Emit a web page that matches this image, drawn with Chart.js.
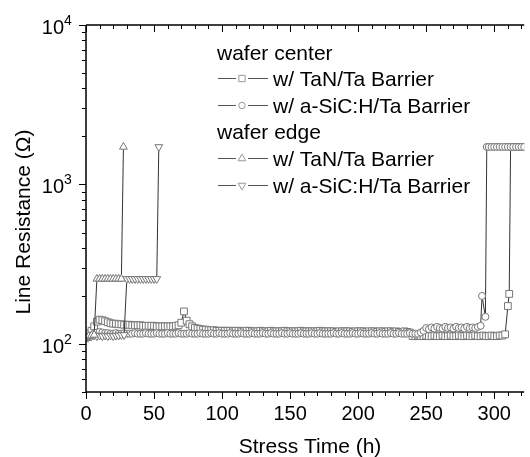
<!DOCTYPE html>
<html>
<head>
<meta charset="utf-8">
<script src="https://cdn.jsdelivr.net/npm/chart.js@4.4.1/dist/chart.umd.min.js"></script>
<style>
  html, body { margin: 0; padding: 0; background: #fff; }
  #wrap { width: 530px; height: 457px; overflow: hidden; }
</style>
</head>
<body>
<div id="wrap"><canvas id="lifetimeChart" width="530" height="457"></canvas></div>
<script>
// Wafer center, TaN/Ta barrier (squares)
const centerTaNHours = [
  0, 2, 4, 6, 8, 10, 12, 14, 16, 18, 20, 22, 24, 26, 28, 30, 32, 34, 36, 38,
  40, 42, 44, 46, 48, 50, 52, 54, 56, 58, 60, 62, 64, 66, 68, 70, 72, 74, 76, 78,
  80, 82, 84, 86, 88, 90, 92, 94, 96, 98, 100, 102, 104, 106, 108, 110, 112, 114, 116, 118,
  120, 122, 124, 126, 128, 130, 132, 134, 136, 138, 140, 142, 144, 146, 148, 150, 152, 154, 156, 158,
  160, 162, 164, 166, 168, 170, 172, 174, 176, 178, 180, 182, 184, 186, 188, 190, 192, 194, 196, 198,
  200, 202, 204, 206, 208, 210, 212, 214, 216, 218, 220, 222, 224, 226, 228, 230, 232, 234, 236, 238,
  240, 242, 244, 246, 248, 250, 252, 254, 256, 258, 260, 262, 264, 266, 268, 270, 272, 274, 276, 278,
  280, 282, 284, 286, 288, 290, 292, 294, 296, 298, 300, 302, 304, 306, 308, 310, 311, 312, 314, 316,
  318, 320, 322
];
const centerTaNOhms = [
  112, 116, 121, 129, 138, 142, 141, 139, 137, 135, 134, 134, 133, 133, 132, 132, 132, 131, 131, 131,
  131, 130, 130, 130, 130, 130, 129, 129, 129, 129, 129, 129, 129, 130, 131, 136, 160, 140, 133, 129,
  126, 125, 124, 123, 123, 122, 122, 122, 121, 121, 121, 121, 121, 121, 120, 121, 121, 120, 120, 121,
  121, 120, 120, 120, 121, 120, 120, 120, 121, 120, 120, 120, 120, 121, 120, 120, 120, 120, 120, 121,
  120, 120, 120, 120, 120, 120, 121, 120, 120, 120, 120, 120, 119, 120, 120, 120, 120, 120, 119, 120,
  120, 120, 120, 119, 120, 120, 120, 119, 120, 120, 119, 120, 120, 119, 120, 119, 119, 120, 119, 118,
  112, 112, 113, 112, 112, 113, 112, 112, 113, 112, 112, 113, 112, 112, 113, 112, 112, 113, 112, 112,
  113, 112, 112, 113, 112, 112, 113, 112, 112, 113, 112, 112, 113, 113, 115, 173, 206, 1720, 1720, 1720,
  1720, 1720, 1720
];

// Wafer center, a-SiC:H/Ta barrier (circles)
const centerSiCHours = [
  0, 2, 4, 6, 8, 10, 12, 14, 16, 18, 20, 22, 24, 26, 28, 30, 32, 34, 36, 38,
  40, 42, 44, 46, 48, 50, 52, 54, 56, 58, 60, 62, 64, 66, 68, 70, 72, 74, 76, 78,
  80, 82, 84, 86, 88, 90, 92, 94, 96, 98, 100, 102, 104, 106, 108, 110, 112, 114, 116, 118,
  120, 122, 124, 126, 128, 130, 132, 134, 136, 138, 140, 142, 144, 146, 148, 150, 152, 154, 156, 158,
  160, 162, 164, 166, 168, 170, 172, 174, 176, 178, 180, 182, 184, 186, 188, 190, 192, 194, 196, 198,
  200, 202, 204, 206, 208, 210, 212, 214, 216, 218, 220, 222, 224, 226, 228, 230, 232, 234, 236, 238,
  240, 242, 244, 246, 248, 250, 252, 254, 256, 258, 260, 262, 264, 266, 268, 270, 272, 274, 276, 278,
  280, 282, 284, 286, 288, 290, 291, 293.5, 294.5, 296, 298, 300, 302, 304, 306, 308, 310, 312, 314, 316,
  318, 320, 322
];
const centerSiCOhms = [
  108, 110, 113, 116, 118, 119, 118, 117, 117, 116, 116, 117, 116, 116, 117, 116, 116, 116, 117, 116,
  116, 116, 117, 116, 116, 116, 117, 116, 116, 116, 117, 116, 116, 116, 117, 116, 116, 116, 117, 116,
  116, 116, 117, 116, 116, 116, 117, 116, 116, 117, 116, 116, 116, 117, 116, 116, 116, 117, 116, 116,
  116, 117, 116, 116, 116, 117, 116, 116, 117, 116, 116, 116, 117, 116, 116, 117, 116, 116, 116, 117,
  116, 116, 116, 117, 116, 116, 117, 116, 116, 116, 116, 117, 116, 116, 117, 116, 116, 116, 117, 116,
  116, 117, 116, 116, 116, 117, 116, 116, 117, 116, 116, 116, 117, 116, 116, 117, 116, 116, 116, 117,
  116, 116, 116, 118, 121, 126, 124, 127, 125, 128, 126, 125, 128, 126, 127, 125, 128, 126, 127, 125,
  128, 126, 127, 126, 128, 130, 200, 148, 1720, 1720, 1720, 1720, 1720, 1720, 1720, 1720, 1720, 1720, 1720, 1720,
  1720, 1720, 1720
];

// Wafer edge, TaN/Ta barrier (triangles)
const edgeTaNHours = [0, 2, 4, 6, 8, 10, 12, 14, 16, 18, 20, 22, 24, 26, 27.5];
const edgeTaNOhms = [110, 112, 113, 114, 256, 256, 256, 256, 256, 256, 256, 256, 256, 256, 1720];

// Wafer edge, a-SiC:H/Ta barrier (inverted triangles)
const edgeSiCHours = [
  0, 2, 4, 6, 8, 10, 12, 14, 16, 18, 20, 22, 24, 26, 28,
  30, 32, 34, 36, 38, 40, 42, 44, 46, 48, 50, 52, 53.5
];
const edgeSiCOhms = [
  111, 112, 112, 113, 112, 113, 112, 113, 112, 113, 112, 113, 113, 114, 114,
  256, 256, 256, 256, 256, 256, 256, 256, 256, 256, 256, 256, 1720
];

const xMajorTicks = [0, 50, 100, 150, 200, 250, 300];
const xTickLabels = ['0', '50', '100', '150', '200', '250', '300'];
const yMajorTicks = [100, 1000, 10000];
const yTickExponents = ['2', '3', '4'];

const FONT = '"Liberation Sans", Arial, sans-serif';
const MARK = '#777';
const LINE = '#333';

function toPoints(hours, ohms) {
  return hours.map((h, i) => ({ x: h, y: ohms[i] }));
}

function series(label, hours, ohms, style, radius, rotation, order) {
  return {
    label,
    data: toPoints(hours, ohms),
    showLine: true,
    borderColor: LINE,
    borderWidth: 1,
    pointStyle: style,
    pointRadius: radius,
    pointRotation: rotation,
    pointBorderColor: MARK,
    pointBackgroundColor: '#fff',
    pointBorderWidth: 1,
    order,
  };
}

const legendRows = [
  { heading: 'wafer center', y: 60 },
  { label: 'w/ TaN/Ta Barrier', style: 'rect', radius: 4.5, rotation: 0, y: 86 },
  { label: 'w/ a-SiC:H/Ta Barrier', style: 'circle', radius: 3.2, rotation: 0, y: 113 },
  { heading: 'wafer edge', y: 139 },
  { label: 'w/ TaN/Ta Barrier', style: 'triangle', radius: 4.5, rotation: 0, y: 166 },
  { label: 'w/ a-SiC:H/Ta Barrier', style: 'triangle', radius: 4.5, rotation: 180, y: 193 },
];

// axes frame, ticks, tick labels, titles and legend
const frame = {
  id: 'frame',
  afterDraw(chart) {
    const { ctx, chartArea: a, scales: { x, y } } = chart;
    ctx.save();
    ctx.strokeStyle = '#000';
    ctx.lineWidth = 1.5;
    ctx.beginPath();
    ctx.moveTo(a.left, a.top);
    ctx.lineTo(a.right, a.top);
    ctx.moveTo(a.left, a.top);
    ctx.lineTo(a.left, a.bottom);
    ctx.moveTo(a.left, a.bottom);
    ctx.lineTo(a.right, a.bottom);
    ctx.stroke();

    ctx.lineWidth = 1;
    ctx.beginPath();
    for (let t = 0; t <= x.max; t += 10) {
      const px = Math.round(x.getPixelForValue(t)) + 0.5;
      const len = t % 50 === 0 ? 7 : 4;
      ctx.moveTo(px, a.bottom);
      ctx.lineTo(px, a.bottom + len);
      ctx.moveTo(px, a.top);
      ctx.lineTo(px, a.top + len);
    }
    for (let dec = 10; dec <= 10000; dec *= 10) {
      for (let m = 1; m <= 9; m++) {
        const v = dec * m;
        if (v < y.min || v > y.max) continue;
        const py = Math.round(y.getPixelForValue(v)) + 0.5;
        const len = m === 1 ? 7 : 4;
        ctx.moveTo(a.left - len, py);
        ctx.lineTo(a.left, py);
      }
    }
    ctx.stroke();

    ctx.fillStyle = '#000';
    ctx.font = '20px ' + FONT;
    ctx.textAlign = 'center';
    ctx.textBaseline = 'alphabetic';
    xMajorTicks.forEach((t, i) => {
      ctx.fillText(xTickLabels[i], x.getPixelForValue(t), 420);
    });

    yMajorTicks.forEach((v, i) => {
      const py = y.getPixelForValue(v);
      ctx.font = '20px ' + FONT;
      ctx.textAlign = 'right';
      ctx.fillText('10', 64, py + 9);
      ctx.font = '14px ' + FONT;
      ctx.textAlign = 'left';
      ctx.fillText(yTickExponents[i], 64, py);
    });

    ctx.font = '21px ' + FONT;
    ctx.textAlign = 'center';
    ctx.fillText('Stress Time (h)', 310, 453);
    ctx.save();
    ctx.translate(30, 222);
    ctx.rotate(-Math.PI / 2);
    ctx.fillText('Line Resistance (\u03A9)', 0, 0);
    ctx.restore();

    ctx.textAlign = 'left';
    for (const row of legendRows) {
      ctx.fillStyle = '#000';
      ctx.font = '21px ' + FONT;
      if (row.heading) {
        ctx.fillText(row.heading, 217, row.y);
        continue;
      }
      ctx.fillText(row.label, 273, row.y);
      const ly = row.y - 7.5;
      ctx.strokeStyle = '#555';
      ctx.lineWidth = 1;
      ctx.beginPath();
      ctx.moveTo(218, ly);
      ctx.lineTo(236, ly);
      ctx.moveTo(248, ly);
      ctx.lineTo(268, ly);
      ctx.stroke();
      ctx.strokeStyle = '#999';
      ctx.fillStyle = '#fff';
      Chart.helpers.drawPoint(ctx, {
        pointStyle: row.style,
        radius: row.radius,
        rotation: row.rotation,
        borderWidth: 1,
      }, 242, ly);
    }
    ctx.restore();
  },
};

new Chart(document.getElementById('lifetimeChart'), {
  type: 'scatter',
  data: {
    datasets: [
      series('wafer edge w/ TaN/Ta Barrier', edgeTaNHours, edgeTaNOhms, 'triangle', 4.5, 0, 1),
      series('wafer edge w/ a-SiC:H/Ta Barrier', edgeSiCHours, edgeSiCOhms, 'triangle', 4.5, 180, 2),
      series('wafer center w/ a-SiC:H/Ta Barrier', centerSiCHours, centerSiCOhms, 'circle', 3.5, 0, 3),
      series('wafer center w/ TaN/Ta Barrier', centerTaNHours, centerTaNOhms, 'rect', 4.8, 0, 4),
    ],
  },
  options: {
    responsive: false,
    animation: false,
    layout: { padding: { left: 86, top: 25, right: 0, bottom: 65 } },
    plugins: { legend: { display: false }, tooltip: { enabled: false } },
    elements: { line: { tension: 0 } },
    scales: {
      x: { type: 'linear', min: 0, max: 322, display: false },
      y: { type: 'logarithmic', min: 50, max: 10000, display: false },
    },
  },
  plugins: [frame],
});
</script>
</body>
</html>
